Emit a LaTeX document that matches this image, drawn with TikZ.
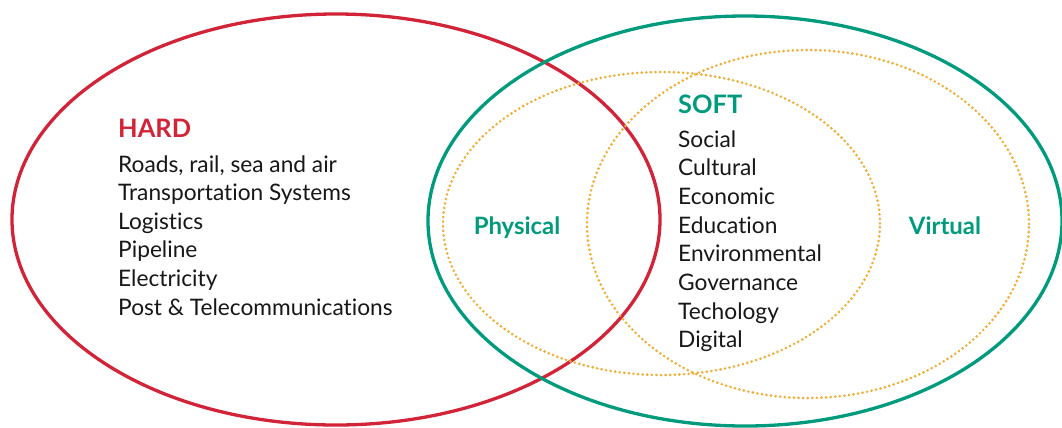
\documentclass[tikz,border=0pt]{standalone}
\usepackage{fontspec}
\setmainfont[Ligatures=NoCommon]{Lato}
\usetikzlibrary{positioning}
\definecolor{hardred}{RGB}{210,36,56}
\definecolor{softgreen}{RGB}{0,154,124}
\definecolor{dotorange}{RGB}{240,172,50}
\definecolor{itemgray}{RGB}{25,22,25}
\tikzset{
  ring/.style={line width=3.3bp},
  dotring/.style={dotorange, line width=2.9bp, line cap=round, dash pattern=on 0bp off 4.6bp},
  title/.style={font=\fontsize{25.5}{29}\selectfont\bfseries, anchor=base west, inner sep=0pt},
  item/.style={font=\fontsize{22.8}{26}\selectfont, text=itemgray, anchor=base west, inner sep=0pt},
  tag/.style={font=\fontsize{24}{28}\selectfont\bfseries, text=softgreen, anchor=base, inner sep=0pt}
}
\begin{document}
\begin{tikzpicture}[x=1bp, y=-1bp]
\useasboundingbox (0,0) rectangle (1062,427);
% the two big rings
\draw[ring, hardred] (336,219.5) ellipse [x radius=324bp, y radius=205.5bp];
\draw[ring, softgreen] (745,221) ellipse [x radius=317bp, y radius=205bp];
% physical and virtual
\draw[dotring] (661.5,223.5) ellipse [x radius=218.5bp, y radius=151.5bp];
\draw[dotring] (808,224) ellipse [x radius=221bp, y radius=174bp];

\node[title, text=hardred] (hard) at (118,137) {HARD};
\foreach \t [count=\i] in {{Roads, rail, sea and air},Transportation Systems,Logistics,Pipeline,Electricity,Post \& Telecommunications}
  \node[item] (hard-\i) at (118,{172+28.6*(\i-1)}) {\t};

\node[title, text=softgreen] (soft) at (678,113) {SOFT};
\foreach \t [count=\i] in {Social,Cultural,Economic,Education,Environmental,Governance,Techology,Digital}
  \node[item] (soft-\i) at (678,{147+28.7*(\i-1)}) {\t};

\node[tag] (physical) at (517,234) {Physical};
\node[tag] (virtual) at (945,234) {Virtual};
\end{tikzpicture}
\end{document}
